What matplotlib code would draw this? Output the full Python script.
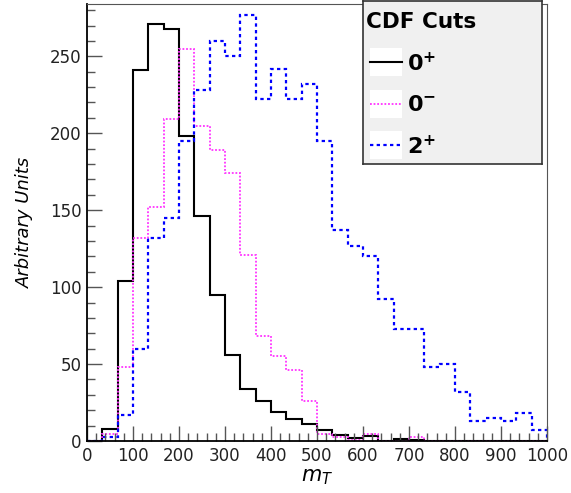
import numpy as np
import matplotlib
matplotlib.use('Agg')
import matplotlib.pyplot as plt
from matplotlib.ticker import MultipleLocator
from matplotlib.patches import Rectangle

# 30 bins from 0 to 1000
edges = np.linspace(0, 1000, 31)

zero_plus = [0, 8, 104, 241, 271, 268, 198, 146, 95, 56, 34, 26, 19, 14, 11,
             7, 4, 2, 3, 0, 1, 0.5, 0, 0, 0, 0, 0, 0, 0, 0]
zero_minus = [0, 4.5, 48, 132, 152, 209, 255, 205, 189, 174, 121, 68, 55, 46, 26,
              4.5, 2.4, 0.5, 4.5, 0, 0, 2.4, 0, 0, 0, 0, 0, 0, 0, 0]
two_plus = [0, 2.4, 17, 60, 132, 145, 195, 228, 260, 250, 277, 222, 242, 222, 232,
            195, 137, 127, 120, 92, 73, 73, 48, 50, 32, 13, 15, 13, 18, 7]

labels = [r'$\mathbf{0^{+}}$', r'$\mathbf{0^{-}}$', r'$\mathbf{2^{+}}$']
colors = ['black', '#ff33ff', '#0000ff']

fig = plt.figure(figsize=(5.71, 4.93), dpi=100)
ax = fig.add_axes([87/571, 1 - 441/493, 460/571, 437/493])

ax.stairs(zero_plus, edges, color=colors[0], lw=1.5, linestyle='-')
ax.stairs(zero_minus, edges, color=colors[1], lw=1.3, linestyle=(0, (1, 1)))
ax.stairs(two_plus, edges, color=colors[2], lw=1.6, linestyle=(0, (1.5, 1.5)))

ax.set_xlim(0, 1000)
ax.set_ylim(0, 284)
ax.xaxis.set_major_locator(MultipleLocator(100))
ax.xaxis.set_minor_locator(MultipleLocator(20))
ax.yaxis.set_major_locator(MultipleLocator(50))
ax.yaxis.set_minor_locator(MultipleLocator(10))
ax.tick_params(which='both', direction='in', top=False, right=False,
               color='#555555', labelsize=12, labelcolor='#222222')
ax.tick_params(which='major', length=11, width=1)
ax.tick_params(which='minor', length=6, width=1)
ax.tick_params(axis='y', pad=4)
ax.tick_params(axis='x', pad=4)
for s in ['top', 'right']:
    ax.spines[s].set_color('#555555')
for s in ['left', 'bottom']:
    ax.spines[s].set_color('black')
    ax.spines[s].set_linewidth(1.3)

ax.set_ylabel('Arbitrary Units', fontsize=13, style='italic')
ax.set_xlabel(r'$m_T$', fontsize=15)
ax.yaxis.set_label_coords(-0.115, 0.5)
ax.xaxis.set_label_coords(0.5, -0.06)

# legend box drawn in pixel coordinates
lg = fig.add_axes([363/571, 1 - 164/493, 179/571, 163/493])
lg.set_xlim(0, 179)
lg.set_ylim(163, 0)
lg.set_facecolor('#f0f0f0')
lg.set_xticks([])
lg.set_yticks([])
for s in lg.spines.values():
    s.set_color('#333333')
    s.set_linewidth(1.2)
lg.text(3, 21, 'CDF Cuts', fontsize=15.5, fontweight='bold', va='center', ha='left')
styles = ['-', (0, (1, 1)), (0, (1.5, 1.5))]
widths = [1.5, 1.3, 1.6]
rows = [61, 103, 144]
for lab, col, st, w, y in zip(labels, colors, styles, widths, rows):
    lg.add_patch(Rectangle((7, y - 14), 32, 28, facecolor='white', edgecolor='none'))
    lg.plot([7, 39], [y, y], color=col, linestyle=st, lw=w)
    lg.text(44, y + 1, lab, fontsize=16, va='center', ha='left')

fig.savefig('out.png', dpi=100)
